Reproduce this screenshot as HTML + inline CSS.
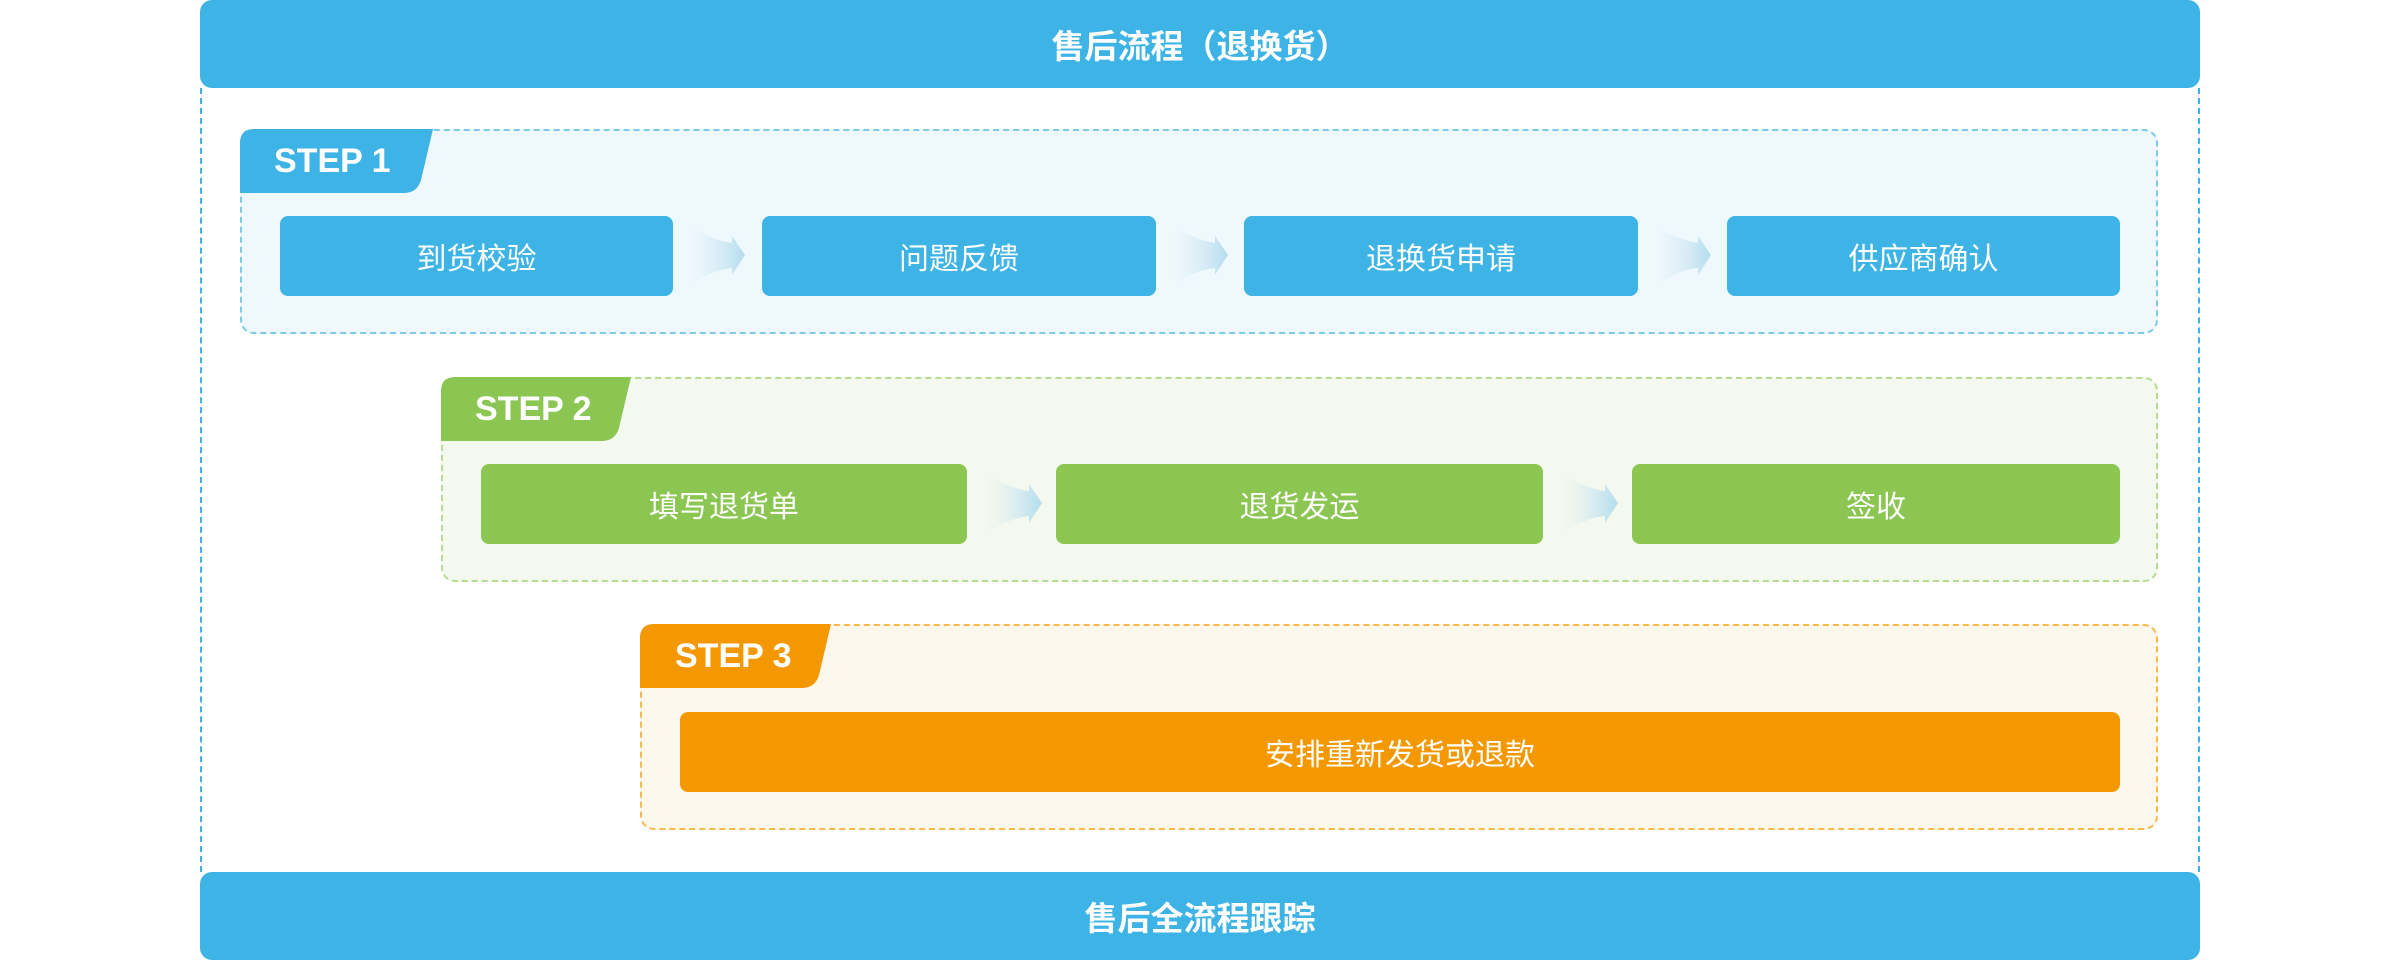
<!DOCTYPE html>
<html><head><meta charset="utf-8"><style>
*{margin:0;padding:0;box-sizing:border-box}
body{width:2400px;height:960px;background:#fff;position:relative;overflow:hidden;font-family:"Liberation Sans","Noto Sans CJK SC",sans-serif}
.bar{position:absolute;left:200px;width:2000px;height:88px;background:#3db4e5;border-radius:12px;color:#fff;font-weight:bold;font-size:33px;display:flex;align-items:center;justify-content:center}
.grp{position:absolute;border:2px dashed;border-radius:14px}
.node{position:absolute;height:80px;border-radius:8px;color:#fff;font-size:30px;display:flex;align-items:center;justify-content:center}
.b{background:#3db4e5}.g{background:#8bc653}.o{background:#f39800}
.vl{position:absolute;top:88px;height:784px;border-left:2px dashed #3db4e5}
svg{position:absolute;left:0;top:0}
.st{position:absolute;color:#fff;font-weight:bold;font-size:34px;line-height:64px}
</style></head><body>
<div class="vl" style="left:200px"></div>
<div class="vl" style="left:2198px"></div>
<div class="bar" style="top:0">售后流程（退换货）</div>
<div class="bar" style="top:872px">售后全流程跟踪</div>

<div class="grp" style="left:240px;top:129px;width:1918px;height:205px;background:#eff8fd;border-color:#7ccbeb"></div>
<div class="grp" style="left:441px;top:377px;width:1717px;height:205px;background:#f3f9ee;border-color:#b5dc8f"></div>
<div class="grp" style="left:640px;top:624px;width:1518px;height:206px;background:#fef7ec;border-color:#f8b94f"></div>

<svg width="2400" height="960">
<defs>
<linearGradient id="ag" x1="0" x2="1" y1="0" y2="0">
<stop offset="0" stop-color="#d8e9f0" stop-opacity="0"/>
<stop offset="1" stop-color="#b3dcef"/>
</linearGradient>
<g id="ar"><path d="M0,-29 Q22,-15 42,-12 L42,-19 L55,0 L42,20 L42,13 Q22,15 0,30 Z" fill="url(#ag)"/></g>
</defs>
<path d="M240,193 L240,143 Q240,129 254,129 L433,129 L421,180 Q417,193 404,193 Z" fill="#3db4e5"/>
<path d="M441,441 L441,391 Q441,377 455,377 L631,377 L619,428 Q615,441 602,441 Z" fill="#8bc653"/>
<path d="M640,688 L640,638 Q640,624 654,624 L831,624 L819,675 Q815,688 802,688 Z" fill="#f39800"/>
<use href="#ar" x="690" y="255"/>
<use href="#ar" x="1173" y="255"/>
<use href="#ar" x="1656" y="255"/>
<use href="#ar" x="987" y="503"/>
<use href="#ar" x="1563" y="503"/>
</svg>
<div class="st" style="left:274px;top:129px">STEP 1</div>
<div class="st" style="left:475px;top:377px">STEP 2</div>
<div class="st" style="left:675px;top:624px">STEP 3</div>

<div class="node b" style="left:280px;top:216px;width:393px">到货校验</div>
<div class="node b" style="left:762px;top:216px;width:394px">问题反馈</div>
<div class="node b" style="left:1244px;top:216px;width:394px">退换货申请</div>
<div class="node b" style="left:1727px;top:216px;width:393px">供应商确认</div>

<div class="node g" style="left:481px;top:464px;width:486px">填写退货单</div>
<div class="node g" style="left:1056px;top:464px;width:487px">退货发运</div>
<div class="node g" style="left:1632px;top:464px;width:488px">签收</div>

<div class="node o" style="left:680px;top:712px;width:1440px">安排重新发货或退款</div>
</body></html>
